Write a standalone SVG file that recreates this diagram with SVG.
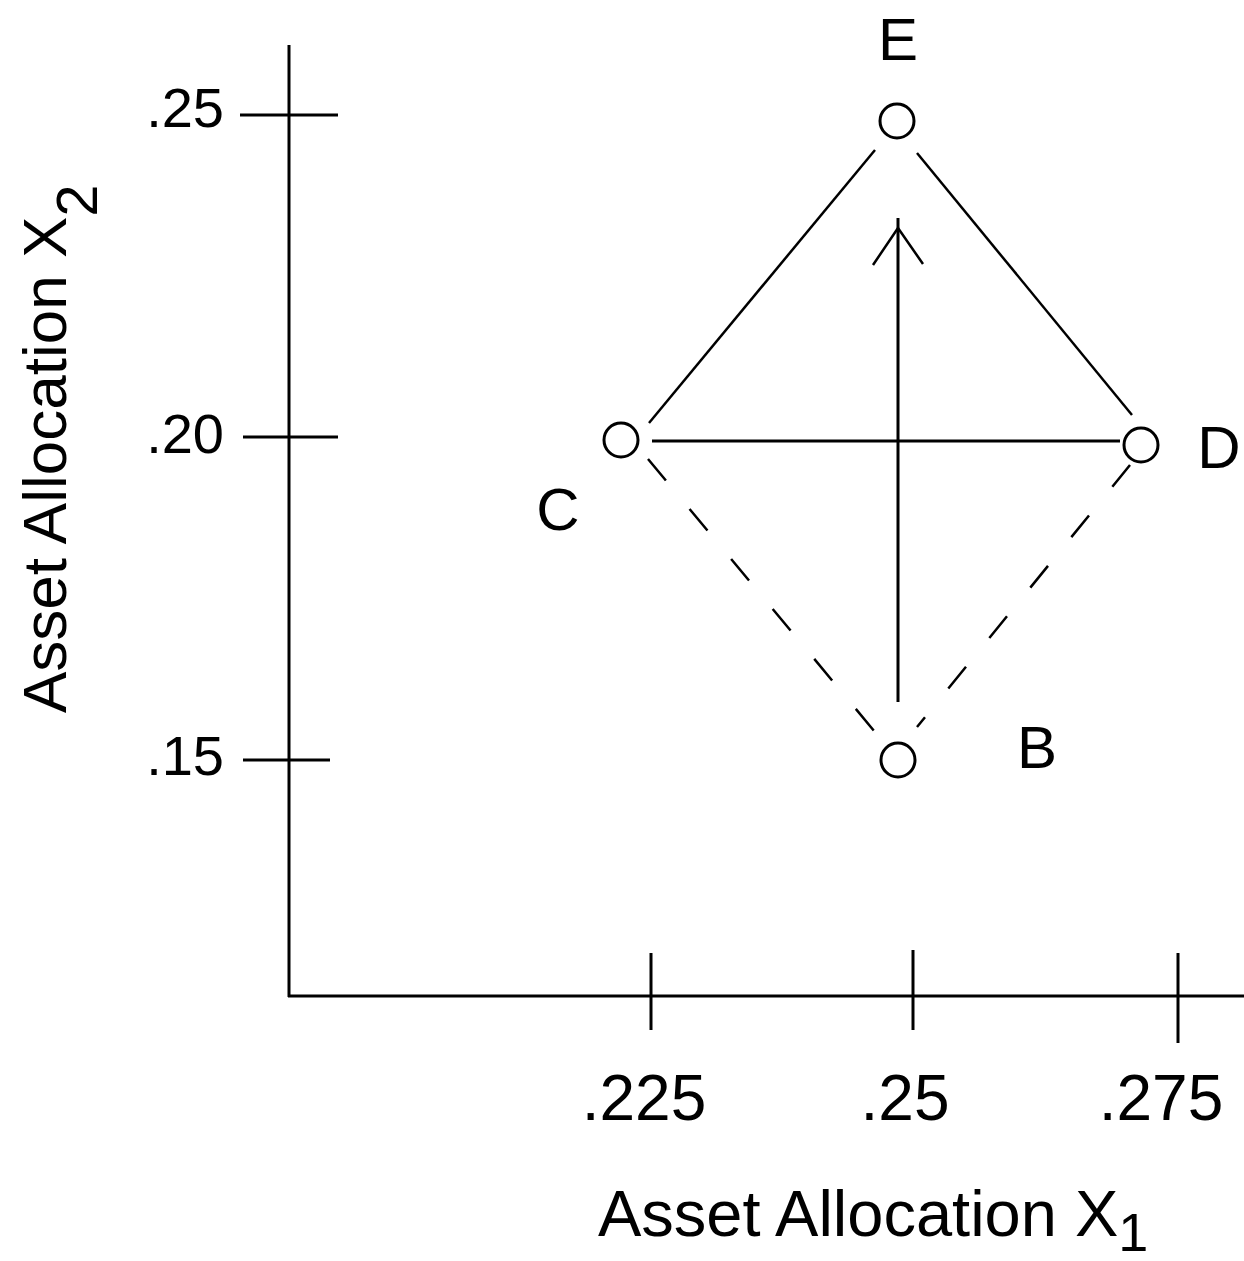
<svg xmlns="http://www.w3.org/2000/svg" width="1244" height="1261" viewBox="0 0 1244 1261">
<style>
.ax{stroke:#000;stroke-width:3;fill:none}
.ln{stroke:#000;stroke-width:2.5;fill:none}
.dash{stroke:#000;stroke-width:2.5;fill:none;stroke-dasharray:28 37}
.node{stroke:#000;stroke-width:3;fill:#fff}
.t{font-family:"Liberation Sans",Arial,sans-serif;fill:#000}
</style>
<rect width="1244" height="1261" fill="#fff"/>
<g id="axes">
<line class="ax" x1="289" y1="45" x2="289" y2="997"/>
<line class="ax" x1="288" y1="996" x2="1244" y2="996"/>
<line class="ax" x1="240" y1="115" x2="338" y2="115"/>
<line class="ax" x1="243" y1="437" x2="338" y2="437"/>
<line class="ax" x1="243" y1="760" x2="330" y2="760"/>
<line class="ax" x1="651" y1="953" x2="651" y2="1030"/>
<line class="ax" x1="913" y1="950" x2="913" y2="1030"/>
<line class="ax" x1="1178" y1="953" x2="1178" y2="1043"/>
<text class="t" x="224" y="127" font-size="56" text-anchor="end">.25</text>
<text class="t" x="224" y="453" font-size="56" text-anchor="end">.20</text>
<text class="t" x="224" y="775" font-size="56" text-anchor="end">.15</text>
<text class="t" x="644" y="1120" font-size="64" text-anchor="middle">.225</text>
<text class="t" x="905" y="1120" font-size="64" text-anchor="middle">.25</text>
<text class="t" x="1161" y="1120" font-size="64" text-anchor="middle">.275</text>
<text class="t" x="598" y="1236" font-size="65">Asset Allocation X<tspan dy="15" font-size="54">1</tspan></text>
<text class="t" font-size="62" transform="translate(66,713) rotate(-90)">Asset Allocation X<tspan dy="31" font-size="58">2</tspan></text>
</g>
<g id="connectors">
<line class="ln" x1="875" y1="150" x2="649" y2="423"/>
<line class="ln" x1="917" y1="153" x2="1132" y2="415"/>
<line class="ax" x1="652" y1="441" x2="1120" y2="441"/>
<line class="dash" x1="648" y1="459" x2="875" y2="732"/>
<line class="dash" x1="1130" y1="465" x2="917" y2="727"/>
<line class="ax" x1="898" y1="702" x2="898" y2="218"/>
<polyline class="ln" points="873,265 898,228 923,264"/>
</g>
<g id="node-E">
<circle class="node" cx="897" cy="121" r="17"/>
<text class="t" x="898" y="60" font-size="60" text-anchor="middle">E</text>
</g>
<g id="node-C">
<circle class="node" cx="621" cy="440" r="17"/>
<text class="t" x="558" y="530" font-size="60" text-anchor="middle">C</text>
</g>
<g id="node-D">
<circle class="node" cx="1141" cy="445" r="17"/>
<text class="t" x="1219" y="468" font-size="60" text-anchor="middle">D</text>
</g>
<g id="node-B">
<circle class="node" cx="898" cy="760" r="17"/>
<text class="t" x="1037" y="768" font-size="60" text-anchor="middle">B</text>
</g>
</svg>
